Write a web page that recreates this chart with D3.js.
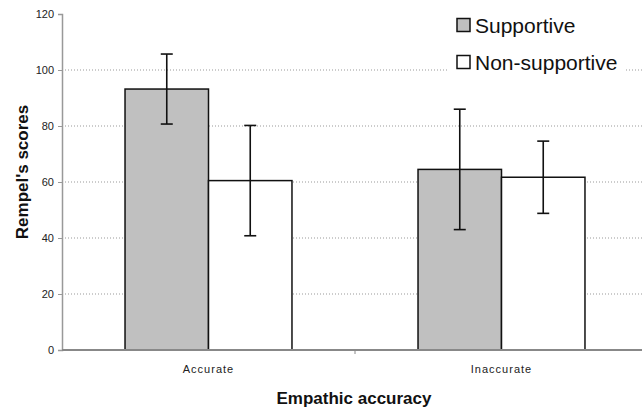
<!DOCTYPE html>
<html>
<head>
<meta charset="utf-8">
<script src="https://cdn.jsdelivr.net/npm/d3@7"></script>
<style>
  body { margin: 0; background: #fff; }
  svg { font-family: "Liberation Sans", Arial, sans-serif; }
</style>
</head>
<body>
<svg id="chart" width="642" height="413"></svg>
<script>
// Data
const categories = ["Accurate", "Inaccurate"];
const groups = ["Supportive", "Non-supportive"];
const supportive = [93.2, 64.5];
const supportiveErr = [12.5, 21.5];
const nonSupportive = [60.5, 61.7];
const nonSupportiveErr = [19.7, 12.9];
const yTicks = [0, 20, 40, 60, 80, 100, 120];

const colors = { "Supportive": "#c0c0c0", "Non-supportive": "#ffffff" };

const svg = d3.select("#chart");
const plotLeft = 62, plotRight = 648, plotTop = 14, plotBottom = 350;

const x0 = d3.scaleBand().domain(categories).range([plotLeft, plotRight]);
const x1 = d3.scaleBand().domain(groups).range([0, x0.bandwidth()]).paddingOuter(0.755);
const y = d3.scaleLinear().domain([0, 120]).range([plotBottom, plotTop]);

const rows = categories.map((c, i) => ({
    cat: c,
    vals: [
        { g: "Supportive", v: supportive[i], e: supportiveErr[i] },
        { g: "Non-supportive", v: nonSupportive[i], e: nonSupportiveErr[i] }
    ]
}));

// gridlines
svg.append("g")
    .selectAll("line")
    .data(yTicks.filter(t => t > 0 && t < 120))
    .enter()
    .append("line")
    .attr("x1", plotLeft)
    .attr("x2", 642)
    .attr("y1", d => y(d))
    .attr("y2", d => y(d))
    .attr("stroke", "#999")
    .attr("stroke-width", 1)
    .attr("stroke-dasharray", "1,2");

// y axis
const yAxis = svg.append("g")
    .attr("transform", "translate(" + plotLeft + ",0)")
    .call(d3.axisLeft(y).tickValues(yTicks).tickSize(4).tickPadding(4));
yAxis.select(".domain").attr("stroke", "#999").attr("stroke-width", 1.5);
yAxis.selectAll(".tick line").attr("stroke", "#999");
yAxis.selectAll("text").attr("fill", "#222").style("font-size", "11px").attr("font-family", "Liberation Sans, Arial, sans-serif");

// bars
const groupSel = svg.append("g")
    .selectAll("g")
    .data(rows)
    .enter()
    .append("g")
    .attr("transform", d => "translate(" + x0(d.cat) + ",0)");

groupSel.selectAll("rect")
    .data(d => d.vals)
    .enter()
    .append("rect")
    .attr("x", d => x1(d.g))
    .attr("width", x1.bandwidth())
    .attr("y", d => y(d.v))
    .attr("height", d => y(0) - y(d.v))
    .attr("fill", d => colors[d.g])
    .attr("stroke", "#111")
    .attr("stroke-width", 1.5);

// error bars
const eb = groupSel.selectAll(".err")
    .data(d => d.vals)
    .enter()
    .append("g")
    .attr("class", "err")
    .attr("stroke", "#111")
    .attr("stroke-width", 1.6);
eb.append("line")
    .attr("x1", d => x1(d.g) + x1.bandwidth() / 2)
    .attr("x2", d => x1(d.g) + x1.bandwidth() / 2)
    .attr("y1", d => y(d.v + d.e))
    .attr("y2", d => y(d.v - d.e));
eb.append("line")
    .attr("x1", d => x1(d.g) + x1.bandwidth() / 2 - 6)
    .attr("x2", d => x1(d.g) + x1.bandwidth() / 2 + 6)
    .attr("y1", d => y(d.v + d.e))
    .attr("y2", d => y(d.v + d.e));
eb.append("line")
    .attr("x1", d => x1(d.g) + x1.bandwidth() / 2 - 6)
    .attr("x2", d => x1(d.g) + x1.bandwidth() / 2 + 6)
    .attr("y1", d => y(d.v - d.e))
    .attr("y2", d => y(d.v - d.e));

// x axis
svg.append("line")
    .attr("x1", plotLeft)
    .attr("x2", 642)
    .attr("y1", plotBottom)
    .attr("y2", plotBottom)
    .attr("stroke", "#888")
    .attr("stroke-width", 2);
svg.append("line")
    .attr("x1", x0(categories[1]))
    .attr("x2", x0(categories[1]))
    .attr("y1", plotBottom)
    .attr("y2", plotBottom + 4)
    .attr("stroke", "#888");

svg.append("g")
    .selectAll("text")
    .data(categories)
    .enter()
    .append("text")
    .attr("x", d => x0(d) + x0.bandwidth() / 2)
    .attr("y", 373)
    .attr("text-anchor", "middle")
    .style("font-size", "11px")
    .style("letter-spacing", "1px")
    .attr("fill", "#222")
    .text(d => d);

// axis titles
svg.append("text")
    .attr("x", 354)
    .attr("y", 404)
    .attr("text-anchor", "middle")
    .style("font-size", "17px")
    .style("font-weight", "bold")
    .attr("fill", "#111")
    .text("Empathic accuracy");

svg.append("text")
    .attr("transform", "translate(28,172) rotate(-90)")
    .attr("text-anchor", "middle")
    .style("font-size", "17px")
    .style("font-weight", "bold")
    .attr("fill", "#111")
    .text("Rempel's scores");

// legend
const legend = svg.append("g").attr("transform", "translate(448,8)");
legend.append("rect")
    .attr("width", 177)
    .attr("height", 72)
    .attr("fill", "#fff");
const li = legend.selectAll(".item")
    .data(groups)
    .enter()
    .append("g")
    .attr("class", "item")
    .attr("transform", (d, i) => "translate(0," + (i * 37) + ")");
li.append("rect")
    .attr("x", 9)
    .attr("y", 10.5)
    .attr("width", 13)
    .attr("height", 13)
    .attr("fill", d => colors[d])
    .attr("stroke", "#111")
    .attr("stroke-width", 1.5);
li.append("text")
    .attr("x", 27)
    .attr("y", 24.5)
    .style("font-size", "21px")
    .attr("fill", "#111")
    .text(d => d);
</script>
</body>
</html>
